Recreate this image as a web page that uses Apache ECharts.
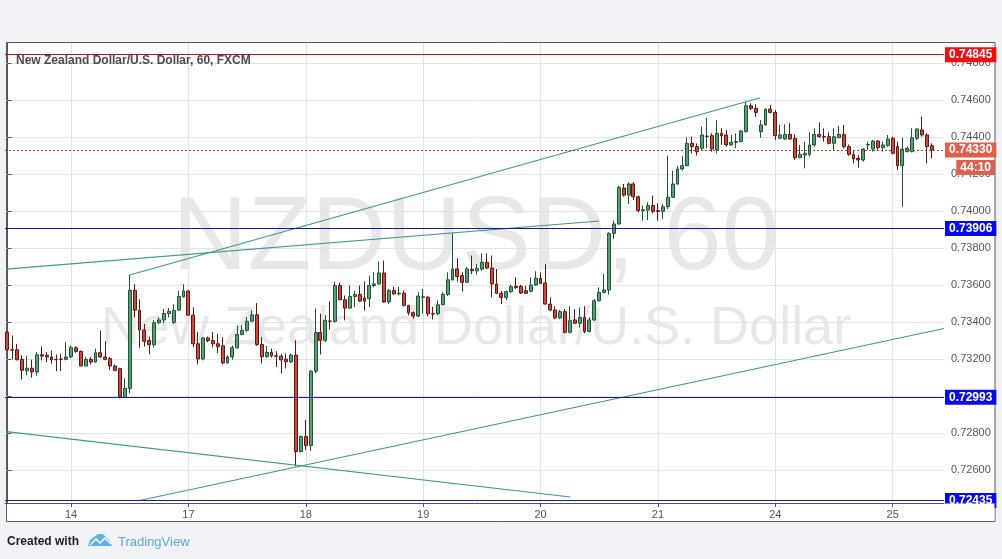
<!DOCTYPE html>
<html><head><meta charset="utf-8">
<script src="https://cdn.jsdelivr.net/npm/echarts@6/dist/echarts.min.js"></script>
<style>html,body{margin:0;padding:0;background:#f1f3f6;}#c{width:1002px;height:559px;}</style>
</head><body><div id="c"></div>
<script>
// ---- Data (NZDUSD, 60 min candles) ----
const opens = [0.73345,0.73250,0.73250,0.73198,0.73137,0.73150,0.73130,0.73223,0.73220,0.73211,0.73198,0.73200,0.73198,0.73211,0.73261,0.73241,0.73162,0.73198,0.73184,0.73234,0.73211,0.73202,0.73162,0.73148,0.72993,0.73041,0.73571,0.73464,0.73357,0.73300,0.73277,0.73396,0.73411,0.73446,0.73398,0.73464,0.73536,0.73568,0.73437,0.73282,0.73200,0.73314,0.73300,0.73282,0.73271,0.73179,0.73211,0.73261,0.73332,0.73355,0.73404,0.73439,0.73278,0.73212,0.73235,0.73217,0.73215,0.73199,0.73185,0.73221,0.72700,0.72781,0.72733,0.73134,0.73343,0.73301,0.73405,0.73404,0.73597,0.73520,0.73475,0.73538,0.73549,0.73529,0.73526,0.73597,0.73606,0.73665,0.73508,0.73570,0.73552,0.73556,0.73490,0.73450,0.73432,0.73534,0.73534,0.73445,0.73445,0.73493,0.73549,0.73628,0.73687,0.73651,0.73615,0.73685,0.73677,0.73686,0.73722,0.73692,0.73605,0.73555,0.73533,0.73564,0.73593,0.73593,0.73569,0.73566,0.73600,0.73636,0.73611,0.73497,0.73465,0.73422,0.73456,0.73344,0.73411,0.73393,0.73425,0.73349,0.73411,0.73515,0.73560,0.73573,0.73879,0.73930,0.74124,0.74086,0.74146,0.74077,0.74002,0.74005,0.74029,0.74002,0.73998,0.74023,0.74074,0.74146,0.74227,0.74245,0.74366,0.74348,0.74339,0.74402,0.74407,0.74330,0.74420,0.74411,0.74357,0.74371,0.74375,0.74429,0.74569,0.74555,0.74429,0.74465,0.74551,0.74533,0.74393,0.74389,0.74414,0.74393,0.74288,0.74303,0.74306,0.74357,0.74414,0.74402,0.74402,0.74366,0.74396,0.74414,0.74348,0.74306,0.74285,0.74276,0.74357,0.74335,0.74378,0.74342,0.74353,0.74393,0.74348,0.74245,0.74321,0.74321,0.74393,0.74438,0.74411,0.74353];
const closes = [0.73250,0.73248,0.73196,0.73139,0.73150,0.73130,0.73223,0.73216,0.73211,0.73196,0.73196,0.73198,0.73211,0.73261,0.73241,0.73162,0.73198,0.73184,0.73234,0.73211,0.73198,0.73162,0.73139,0.72996,0.73041,0.73571,0.73464,0.73357,0.73296,0.73277,0.73396,0.73411,0.73446,0.73457,0.73464,0.73538,0.73568,0.73437,0.73282,0.73200,0.73314,0.73300,0.73282,0.73268,0.73179,0.73211,0.73261,0.73332,0.73355,0.73404,0.73439,0.73278,0.73212,0.73235,0.73217,0.73215,0.73195,0.73185,0.73221,0.72700,0.72781,0.72733,0.73134,0.73343,0.73301,0.73409,0.73404,0.73597,0.73520,0.73475,0.73538,0.73549,0.73513,0.73513,0.73597,0.73606,0.73665,0.73508,0.73570,0.73552,0.73556,0.73490,0.73450,0.73432,0.73540,0.73536,0.73445,0.73443,0.73493,0.73549,0.73628,0.73687,0.73646,0.73615,0.73687,0.73677,0.73690,0.73722,0.73692,0.73605,0.73555,0.73533,0.73564,0.73591,0.73587,0.73557,0.73555,0.73600,0.73636,0.73609,0.73497,0.73465,0.73422,0.73456,0.73344,0.73407,0.73393,0.73425,0.73349,0.73411,0.73515,0.73560,0.73573,0.73879,0.73930,0.74128,0.74086,0.74146,0.74077,0.74002,0.74007,0.74029,0.73998,0.73998,0.74023,0.74074,0.74146,0.74227,0.74245,0.74366,0.74348,0.74320,0.74411,0.74405,0.74335,0.74420,0.74407,0.74357,0.74371,0.74375,0.74432,0.74569,0.74555,0.74533,0.74465,0.74550,0.74533,0.74407,0.74411,0.74414,0.74389,0.74288,0.74306,0.74312,0.74357,0.74414,0.74402,0.74400,0.74366,0.74402,0.74414,0.74348,0.74306,0.74281,0.74276,0.74335,0.74360,0.74378,0.74342,0.74357,0.74389,0.74312,0.74245,0.74335,0.74339,0.74396,0.74443,0.74411,0.74348,0.74330];
const lows = [0.73246,0.73198,0.73193,0.73089,0.73112,0.73100,0.73109,0.73193,0.73184,0.73175,0.73134,0.73136,0.73193,0.73205,0.73232,0.73161,0.73161,0.73171,0.73180,0.73205,0.73193,0.73139,0.73134,0.72987,0.72990,0.73014,0.73425,0.73261,0.73268,0.73225,0.73261,0.73389,0.73393,0.73425,0.73389,0.73461,0.73532,0.73434,0.73264,0.73171,0.73193,0.73291,0.73264,0.73232,0.73171,0.73175,0.73196,0.73255,0.73328,0.73346,0.73400,0.73271,0.73176,0.73208,0.73208,0.73158,0.73122,0.73149,0.73179,0.72620,0.72695,0.72709,0.72704,0.73122,0.73224,0.73292,0.73359,0.73396,0.73517,0.73409,0.73472,0.73481,0.73508,0.73463,0.73481,0.73588,0.73601,0.73504,0.73497,0.73547,0.73543,0.73484,0.73436,0.73418,0.73427,0.73445,0.73432,0.73414,0.73436,0.73490,0.73540,0.73624,0.73619,0.73565,0.73612,0.73659,0.73656,0.73677,0.73686,0.73533,0.73551,0.73497,0.73519,0.73555,0.73578,0.73551,0.73551,0.73560,0.73596,0.73605,0.73494,0.73458,0.73416,0.73416,0.73339,0.73339,0.73390,0.73371,0.73339,0.73344,0.73407,0.73510,0.73555,0.73548,0.73849,0.73926,0.74077,0.74038,0.74059,0.73993,0.73948,0.73951,0.73987,0.73948,0.73957,0.74011,0.74070,0.74141,0.74218,0.74243,0.74312,0.74300,0.74330,0.74339,0.74321,0.74312,0.74357,0.74348,0.74353,0.74339,0.74371,0.74425,0.74546,0.74510,0.74396,0.74461,0.74528,0.74384,0.74389,0.74384,0.74384,0.74276,0.74285,0.74231,0.74294,0.74348,0.74396,0.74375,0.74360,0.74330,0.74393,0.74339,0.74299,0.74258,0.74234,0.74267,0.74330,0.74321,0.74330,0.74321,0.74348,0.74306,0.74222,0.74023,0.74317,0.74317,0.74384,0.74402,0.74258,0.74285];
const highs = [0.73350,0.73327,0.73282,0.73220,0.73216,0.73196,0.73237,0.73268,0.73237,0.73246,0.73225,0.73229,0.73291,0.73273,0.73268,0.73246,0.73211,0.73211,0.73255,0.73354,0.73295,0.73211,0.73171,0.73153,0.73095,0.73654,0.73604,0.73523,0.73389,0.73321,0.73411,0.73425,0.73470,0.73475,0.73496,0.73568,0.73604,0.73571,0.73479,0.73345,0.73318,0.73321,0.73345,0.73336,0.73318,0.73220,0.73273,0.73380,0.73382,0.73427,0.73463,0.73502,0.73319,0.73271,0.73256,0.73242,0.73226,0.73230,0.73230,0.73301,0.72786,0.72871,0.73140,0.73472,0.73445,0.73436,0.73511,0.73619,0.73612,0.73543,0.73597,0.73570,0.73597,0.73619,0.73651,0.73669,0.73726,0.73732,0.73579,0.73592,0.73588,0.73570,0.73493,0.73457,0.73561,0.73579,0.73540,0.73481,0.73517,0.73561,0.73669,0.73881,0.73744,0.73669,0.73696,0.73759,0.73713,0.73771,0.73771,0.73759,0.73686,0.73569,0.73569,0.73602,0.73641,0.73600,0.73596,0.73641,0.73674,0.73668,0.73713,0.73533,0.73485,0.73465,0.73470,0.73485,0.73470,0.73479,0.73485,0.73425,0.73524,0.73587,0.73659,0.73885,0.73948,0.74137,0.74146,0.74155,0.74155,0.74083,0.74029,0.74047,0.74083,0.74041,0.74038,0.74299,0.74218,0.74245,0.74299,0.74398,0.74402,0.74365,0.74456,0.74504,0.74420,0.74492,0.74447,0.74438,0.74411,0.74420,0.74438,0.74591,0.74582,0.74577,0.74492,0.74555,0.74573,0.74546,0.74465,0.74468,0.74474,0.74414,0.74357,0.74375,0.74425,0.74447,0.74479,0.74447,0.74425,0.74447,0.74461,0.74465,0.74360,0.74324,0.74303,0.74339,0.74375,0.74384,0.74384,0.74375,0.74411,0.74402,0.74375,0.74396,0.74348,0.74447,0.74447,0.74510,0.74420,0.74366];

const dayLabels = ['14','17','18','19','20','21','24','25'];
const dayStartIndex = [13,37,61,85,109,133,157,181];
const priceTicks = [0.726,0.728,0.730,0.732,0.734,0.736,0.738,0.740,0.742,0.744,0.746,0.748];
const priceMin = 0.724216, priceMax = 0.749081;
const resistanceLevel = 0.74845;
const supportLevels = [0.73906, 0.72993, 0.72435];
const lastPrice = 0.74330;
const countdown = '44:10';
const trendUpper = [[25, 0.73654], [153.9, 0.74612]];
const trendLong = [[-0.2, 0.73686], [121, 0.73946]];
const trendDown = [[-0.2, 0.72807], [115.1, 0.72454]];
const trendRising = [[27, 0.72435], [191.5, 0.73365]];
const emptySlots = 2;

// ---- Build ----
const N = opens.length + emptySlots;
const categories = Array.from({length: N}, (_, i) => String(i));
const candles = opens.map((o, i) => [o, closes[i], lows[i], highs[i]]);

const chart = echarts.init(document.getElementById('c'), null, {renderer: 'canvas'});
const FONT = '"Liberation Sans", Arial, sans-serif';

function levelSeries(value, lineColor, bg, dashed) {
  return {
    type: 'line', xAxisIndex: 1, yAxisIndex: 0, data: [], silent: true, z: 5,
    markLine: {
      silent: true, symbol: ['none', 'none'], animation: false, precision: 5,
      lineStyle: {color: lineColor, width: 1, type: dashed ? [2, 2] : 'solid'},
      label: {
        show: true, position: 'end', distance: 1,
        formatter: value.toFixed(5),
        backgroundColor: bg, color: '#fff', fontWeight: 'bold', fontSize: 12,
        fontFamily: FONT, padding: [2, 4, 1, 4]
      },
      data: [{yAxis: value}]
    }
  };
}

const trendStyle = {color: '#3f9a86', width: 1.2};
function trendSeries(data) {
  return {type: 'line', xAxisIndex: 1, yAxisIndex: 0, data: data, showSymbol: false,
    symbol: 'none', silent: true, z: 4, lineStyle: trendStyle, animation: false};
}

const option = {
  backgroundColor: '#f1f3f6',
  animation: false,
  grid: {left: 5, right: 58, top: 43, bottom: 56},
  xAxis: [
    {type: 'category', data: categories, position: 'top', show: false, boundaryGap: true},
    {type: 'value', min: -0.5, max: N - 0.5, position: 'bottom',
      axisLine: {show: true, lineStyle: {color: '#555', width: 1}},
      axisTick: {show: true, customValues: dayStartIndex, length: 4, lineStyle: {color: '#555'}},
      axisLabel: {customValues: dayStartIndex, color: '#555', fontSize: 11, margin: 6, fontFamily: FONT,
        formatter: v => { const k = dayStartIndex.indexOf(Math.round(v)); return k >= 0 ? dayLabels[k] : ''; }},
      splitLine: {show: true, lineStyle: {color: '#e3e3e3'}}
    }
  ],
  yAxis: {
    type: 'value', position: 'right', min: priceMin, max: priceMax, scale: true,
    axisLine: {show: true, lineStyle: {color: '#555', width: 1}},
    axisTick: {show: true, customValues: priceTicks, length: 4, lineStyle: {color: '#555'}},
    axisLabel: {customValues: priceTicks, color: '#555', fontSize: 11, margin: 7, fontFamily: FONT,
      formatter: v => v.toFixed(5)},
    splitLine: {show: true, lineStyle: {color: '#e3e3e3'}}
  },
  series: [
    {
      type: 'candlestick', xAxisIndex: 0, yAxisIndex: 0, data: candles, barWidth: 3.4,
      itemStyle: {color: '#5a9e78', color0: '#c9493a', borderColor: '#225437', borderColor0: '#5b1a13', borderWidth: 1}
    },
    levelSeries(resistanceLevel, '#d01010', '#ee1010', false),
    levelSeries(supportLevels[0], '#1b1b8f', '#0a0ae6', false),
    levelSeries(supportLevels[1], '#1b1b8f', '#0a0ae6', false),
    levelSeries(supportLevels[2], '#1b1b8f', '#0a0ae6', false),
    levelSeries(lastPrice, '#c0392b', '#e0604e', true),
    trendSeries(trendUpper),
    trendSeries(trendLong),
    trendSeries(trendDown),
    trendSeries(trendRising)
  ],
  graphic: [
    {type: 'rect', z: -2, shape: {x: 6.5, y: 42.5, width: 988.5, height: 479},
      style: {fill: '#ffffff', stroke: '#5a5a5a', lineWidth: 1}},
    {type: 'text', z: -1, x: 476, y: 240,
      style: {text: 'NZDUSD, 60', fill: '#e8e8e8', font: '104px ' + FONT, align: 'center', verticalAlign: 'middle'}},
    {type: 'text', z: -1, x: 476, y: 329,
      style: {text: 'New Zealand Dollar/U.S. Dollar', fill: '#e8e8e8', font: '54px ' + FONT, align: 'center', verticalAlign: 'middle'}},
    {type: 'text', z: 10, x: 16, y: 61,
      style: {text: 'New Zealand Dollar/U.S. Dollar, 60, FXCM', fill: '#4a4a4a', font: 'bold 12px ' + FONT, verticalAlign: 'middle'}},
    {type: 'text', z: 100, x: 995, y: 167.5,
      style: {text: countdown, fill: '#fff', font: 'bold 12px ' + FONT, align: 'right', verticalAlign: 'middle',
        backgroundColor: '#e0604e', padding: [2, 4, 1, 4]}},
    {type: 'rect', z: 100, shape: {x: 944.5, y: 503.5, width: 50, height: 17.5}, style: {fill: '#ffffff'}},
    {type: 'text', z: 10, x: 7, y: 542,
      style: {text: 'Created with', fill: '#1e1e1e', font: 'bold 12px ' + FONT, verticalAlign: 'middle'}},
    {type: 'polygon', z: 10, shape: {points: [[88,546],[90,540],[94,537],[98,534],[103,534],[107,538],[110,541],[112,546]]},
      style: {fill: '#5db3df'}},
    {type: 'polyline', z: 11, shape: {points: [[90,545],[96,539],[100,543],[105,538],[111,544]]},
      style: {stroke: '#ffffff', lineWidth: 1.5, fill: null}},
    {type: 'text', z: 10, x: 118, y: 542,
      style: {text: 'TradingView', fill: '#5aa9d6', font: '13px ' + FONT, verticalAlign: 'middle'}}
  ]
};
chart.setOption(option);
</script>
</body></html>
